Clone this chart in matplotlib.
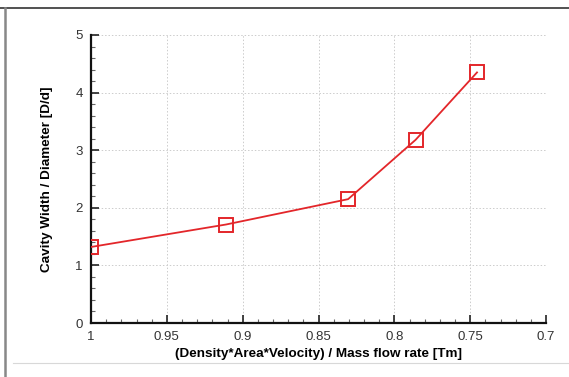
import matplotlib

matplotlib.use("Agg")
import matplotlib.pyplot as plt
from matplotlib.lines import Line2D
from matplotlib.ticker import MultipleLocator

plt.rcParams["font.family"] = ["Liberation Sans", "DejaVu Sans"]

# values
mass_ratio = [1.0, 0.911, 0.8305, 0.786, 0.7455]
cavity_width = [1.32, 1.71, 2.15, 3.18, 4.35]
x_ticks = [1.0, 0.95, 0.9, 0.85, 0.8, 0.75, 0.7]
x_tick_labels = ["1", "0.95", "0.9", "0.85", "0.8", "0.75", "0.7"]
y_ticks = [0, 1, 2, 3, 4, 5]

fig = plt.figure(figsize=(5.69, 3.77), dpi=100)
ax = fig.add_axes([0.16, 0.1432, 0.7996, 0.7640])

red = "#e3262a"
ax.plot(mass_ratio, cavity_width, "-", color=red, lw=1.3, zorder=3)
ax.plot(mass_ratio, cavity_width, "s", ms=9.5, mfc="none", mec=red, mew=1.4, zorder=4)

ax.set_xlim(1.0, 0.7)
ax.set_ylim(0, 5)
ax.set_xticks(x_ticks)
ax.set_xticklabels(x_tick_labels)
ax.set_yticks(y_ticks)
ax.xaxis.set_minor_locator(MultipleLocator(0.01))
ax.yaxis.set_minor_locator(MultipleLocator(0.2))
ax.tick_params(which="major", direction="in", length=6, width=1.2, labelsize=9.5,
               colors="#222222", labelcolor="#333333", pad=6)
ax.tick_params(which="minor", direction="in", length=3, width=0.8, color="#666666")
ax.grid(True, which="major", ls=(0, (1.5, 2)), lw=0.7, color="#cccccc")
ax.set_axisbelow(True)

for side in ("top", "right"):
    ax.spines[side].set_visible(False)
for side in ("left", "bottom"):
    ax.spines[side].set_linewidth(1.6)
    ax.spines[side].set_color("#111111")

ax.set_xlabel("(Density*Area*Velocity) / Mass flow rate [Tm]", fontsize=9.7,
              fontweight="bold", labelpad=3)
ax.set_ylabel("Cavity Width / Diameter [D/d]", fontsize=9.7, fontweight="bold", labelpad=16)

# frame lines around the figure, as in the screenshot
fig.add_artist(Line2D([0.0, 1.0], [0.980, 0.980], transform=fig.transFigure,
                      color="#333333", lw=1.2))
fig.add_artist(Line2D([0.009, 0.009], [0.0, 0.980], transform=fig.transFigure,
                      color="#888888", lw=1.8))
fig.add_artist(Line2D([0.023, 1.0], [0.037, 0.037], transform=fig.transFigure,
                      color="#d8d8d8", lw=0.8))

fig.savefig("out.png", dpi=100)
